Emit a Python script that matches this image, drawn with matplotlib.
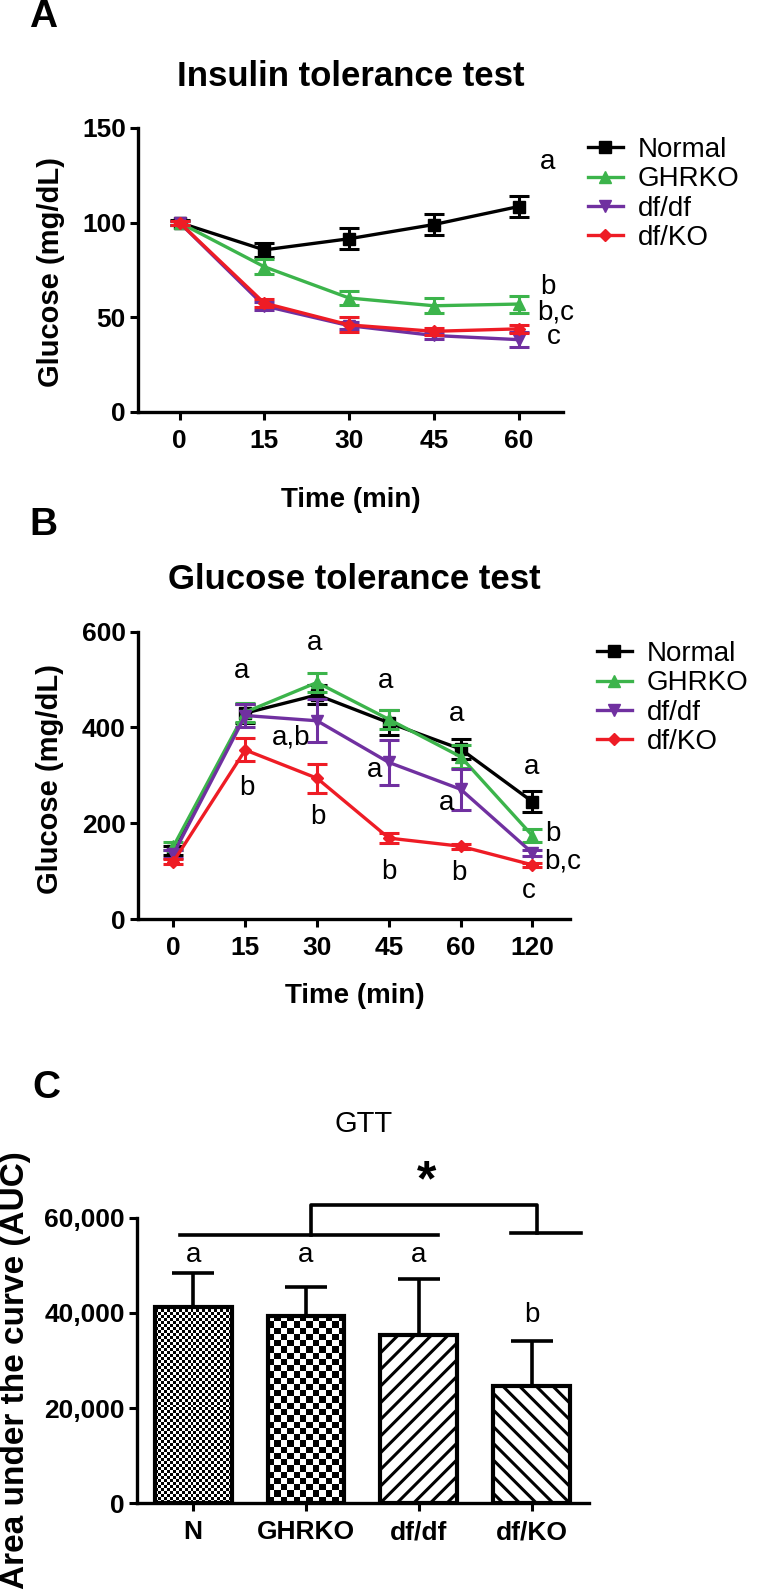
import matplotlib
matplotlib.use("Agg")
import matplotlib.pyplot as plt
import numpy as np
from matplotlib.ticker import FuncFormatter

plt.rcParams["font.family"] = ["Liberation Sans", "DejaVu Sans"]
plt.rcParams["hatch.linewidth"] = 2.2

# ---- Panel A: insulin tolerance test ----
itt_time = [0, 15, 30, 45, 60]
itt_normal = [100, 85.6, 91.5, 99, 108.5]
itt_normal_err = [1.5, 3.5, 5.5, 5.5, 5.5]
itt_ghrko = [100, 76.7, 60.2, 56.1, 57]
itt_ghrko_err = [1, 4, 3.5, 4, 4.5]
itt_dfdf = [100, 56, 45.6, 40.4, 38.2]
itt_dfdf_err = [1, 2, 2, 2, 4]
itt_dfko = [100, 57.5, 46, 42.6, 43.9]
itt_dfko_err = [1, 2, 4, 2, 2]

# ---- Panel B: glucose tolerance test ----
gtt_labels = ["0", "15", "30", "45", "60", "120"]
gtt_normal = [143, 430, 468, 410, 355, 245]
gtt_normal_err = [10, 20, 20, 26, 21, 22]
gtt_ghrko = [152, 432, 494, 417, 339, 174]
gtt_ghrko_err = [8, 20, 19, 20, 24, 14]
gtt_dfdf = [136, 425, 414, 327, 271, 138]
gtt_dfdf_err = [8, 24, 45, 47, 43, 6]
gtt_dfko = [120, 353, 294, 169, 152, 113]
gtt_dfko_err = [5, 24, 30, 10, 5, 5]

# ---- Panel C: AUC ----
auc_groups = ["N", "GHRKO", "df/df", "df/KO"]
auc_vals = [41300, 39350, 35400, 24600]
auc_err = [7000, 6150, 11700, 9500]
auc_letters = ["a", "a", "a", "b"]

series = ["Normal", "GHRKO", "df/df", "df/KO"]
colors = ["black", "#3cb44b", "#7030a0", "#ee1c25"]
markers = ["s", "^", "v", "D"]
msizes = [8, 8, 8, 6]


def style_axes(ax):
    for s in ["top", "right"]:
        ax.spines[s].set_visible(False)
    for s in ["left", "bottom"]:
        ax.spines[s].set_linewidth(2.4)
    ax.tick_params(axis="both", width=2.2, length=6, labelsize=19)
    ax.tick_params(axis="x", pad=6)
    ax.tick_params(axis="y", pad=3)
    for lbl in ax.get_xticklabels() + ax.get_yticklabels():
        lbl.set_fontweight("bold")


fig = plt.figure(figsize=(7.6, 15.9), dpi=100)

# Panel A
axA = fig.add_axes([0.182, 0.7409, 0.559, 0.1786])
itt_all = [itt_normal, itt_ghrko, itt_dfdf, itt_dfko]
itt_errs = [itt_normal_err, itt_ghrko_err, itt_dfdf_err, itt_dfko_err]
handles = []
for i in [0, 1, 2, 3]:
    axA.errorbar(itt_time, itt_all[i], yerr=itt_errs[i], fmt="none",
                 ecolor=colors[i], elinewidth=2.2, capsize=7, capthick=2.2)
    h, = axA.plot(itt_time, itt_all[i], color=colors[i], lw=2.4,
                  marker=markers[i], ms=msizes[i], label=series[i])
    handles.append(h)
axA.set_xlim(-7.3, 67.9)
axA.set_ylim(0, 150)
axA.set_xticks(itt_time)
axA.set_yticks([0, 50, 100, 150])
style_axes(axA)
axA.set_title("Insulin tolerance test", fontsize=25, fontweight="bold", y=1.12)
axA.set_xlabel("Time (min)", fontsize=20, fontweight="bold")
axA.xaxis.set_label_coords(0.5, -0.263)
axA.set_ylabel("Glucose (mg/dL)", fontsize=21, fontweight="bold")
axA.yaxis.set_label_coords(-0.173, 0.493)
for txt, x, y in [("a", 65.2, 132), ("b", 65.2, 66), ("b,c", 66.5, 52.5), ("c", 66.3, 39.5)]:
    axA.text(x, y, txt, fontsize=20, ha="center", va="center", clip_on=False)
fig.legend(handles=handles, loc="upper left", bbox_to_anchor=(588 / 760, 1 - 137 / 1590),
           frameon=False, fontsize=20, handlelength=1.25, handletextpad=0.55,
           labelspacing=0.12, borderpad=0, borderaxespad=0)

# Panel B
axB = fig.add_axes([0.182, 0.422, 0.5686, 0.1807])
xB = np.arange(len(gtt_labels))
gtt_all = [gtt_normal, gtt_ghrko, gtt_dfdf, gtt_dfko]
gtt_errs = [gtt_normal_err, gtt_ghrko_err, gtt_dfdf_err, gtt_dfko_err]
handlesB = []
for i in [0, 1, 2, 3]:
    axB.errorbar(xB, gtt_all[i], yerr=gtt_errs[i], fmt="none",
                 ecolor=colors[i], elinewidth=2.2, capsize=7, capthick=2.2)
    h, = axB.plot(xB, gtt_all[i], color=colors[i], lw=2.4,
                  marker=markers[i], ms=msizes[i], label=series[i])
    handlesB.append(h)
axB.set_xlim(-0.49, 5.53)
axB.set_ylim(0, 600)
axB.set_xticks(xB)
axB.set_xticklabels(gtt_labels)
axB.set_yticks([0, 200, 400, 600])
style_axes(axB)
axB.set_title("Glucose tolerance test", fontsize=25, fontweight="bold", y=1.12)
axB.set_xlabel("Time (min)", fontsize=20, fontweight="bold")
axB.xaxis.set_label_coords(0.5, -0.223)
axB.set_ylabel("Glucose (mg/dL)", fontsize=21, fontweight="bold")
axB.yaxis.set_label_coords(-0.171, 0.489)
gtt_notes = [("a", 0.95, 518), ("a", 1.97, 576), ("a", 2.95, 497), ("a", 3.94, 428),
             ("a", 4.99, 317), ("a,b", 1.64, 380), ("a", 2.8, 311), ("a", 3.81, 243),
             ("b", 1.02, 273), ("b", 2.01, 214), ("b", 3.0, 99), ("b", 3.97, 96),
             ("c", 4.95, 59), ("b", 5.29, 177), ("b,c", 5.42, 120)]
for txt, x, y in gtt_notes:
    axB.text(x, y, txt, fontsize=20, ha="center", va="center", clip_on=False)
fig.legend(handles=handlesB, loc="upper left", bbox_to_anchor=(597 / 760, 1 - 641 / 1590),
           frameon=False, fontsize=20, handlelength=1.25, handletextpad=0.55,
           labelspacing=0.12, borderpad=0, borderaxespad=0)

# Panel C
axC = fig.add_axes([0.1808, 0.0545, 0.594, 0.1796])
xC = np.arange(len(auc_groups))
hatches = [None, None, "//", "\\\\"]
bars = axC.bar(xC, auc_vals, width=0.68, color="white", edgecolor="black",
               linewidth=3, zorder=3)
for b, h in zip(bars, hatches):
    if h:
        b.set_hatch(h)
axC.errorbar(xC, auc_vals, yerr=[np.zeros(len(auc_vals)), auc_err], fmt="none",
             ecolor="black", elinewidth=2.6, capsize=15, capthick=2.6, zorder=2)
axC.set_xlim(-0.495, 3.507)
axC.set_ylim(0, 60000)
axC.set_xticks(xC)
axC.set_xticklabels(auc_groups)
axC.set_yticks([0, 20000, 40000, 60000])
axC.yaxis.set_major_formatter(FuncFormatter(lambda v, p: f"{int(v):,}"))
style_axes(axC)

# checkerboard fills for the first two bars (image clipped to the bar)
fig.canvas.draw()
for b, cell in [(bars[0], 3.0), (bars[1], 6.3)]:
    x0, y0 = b.get_x(), b.get_y()
    x1, y1 = x0 + b.get_width(), y0 + b.get_height()
    p0 = axC.transData.transform((x0, y0))
    p1 = axC.transData.transform((x1, y1))
    nx = max(1, int(round((p1[0] - p0[0]) / cell)))
    ny = max(1, int(round((p1[1] - p0[1]) / cell)))
    chk = np.indices((ny, nx)).sum(axis=0) % 2
    im = axC.imshow(chk, cmap="gray", extent=(x0, x1, y0, y1), aspect="auto",
                    interpolation="nearest", zorder=3.5, origin="lower")
    im.set_clip_path(b)
    b.set_facecolor("none")
    b.set_zorder(4)
axC.set_xlim(-0.495, 3.507)
axC.set_ylim(0, 60000)

axC.set_title("GTT", fontsize=21, y=1.27)
axC.set_ylabel("Area under the curve (AUC)", fontsize=24, fontweight="bold")
axC.yaxis.set_label_coords(-0.236, 0.467)
for i, txt in enumerate(auc_letters):
    yv = 52200 if txt == "a" else 39600
    axC.text(xC[i], yv, txt, fontsize=20, ha="center", va="center")
# significance brackets
axC.plot([-0.115, 2.17], [56400, 56400], color="black", lw=2.6, clip_on=False)
axC.plot([2.82, 3.44], [56700, 56700], color="black", lw=2.6, clip_on=False)
axC.plot([1.04, 1.04, 3.05, 3.05], [56400, 62700, 62700, 56700], color="black",
         lw=2.6, clip_on=False)
axC.text(2.07, 67500, "*", fontsize=36, fontweight="bold", ha="center", va="center")

# panel letters
fig.text(43 / 760, 1 - 17 / 1590, "A", fontsize=28, fontweight="bold", ha="center", va="center")
fig.text(43 / 760, 1 - 525 / 1590, "B", fontsize=28, fontweight="bold", ha="center", va="center")
fig.text(46 / 760, 1 - 1088 / 1590, "C", fontsize=28, fontweight="bold", ha="center", va="center")

fig.savefig("out.png", dpi=100)
